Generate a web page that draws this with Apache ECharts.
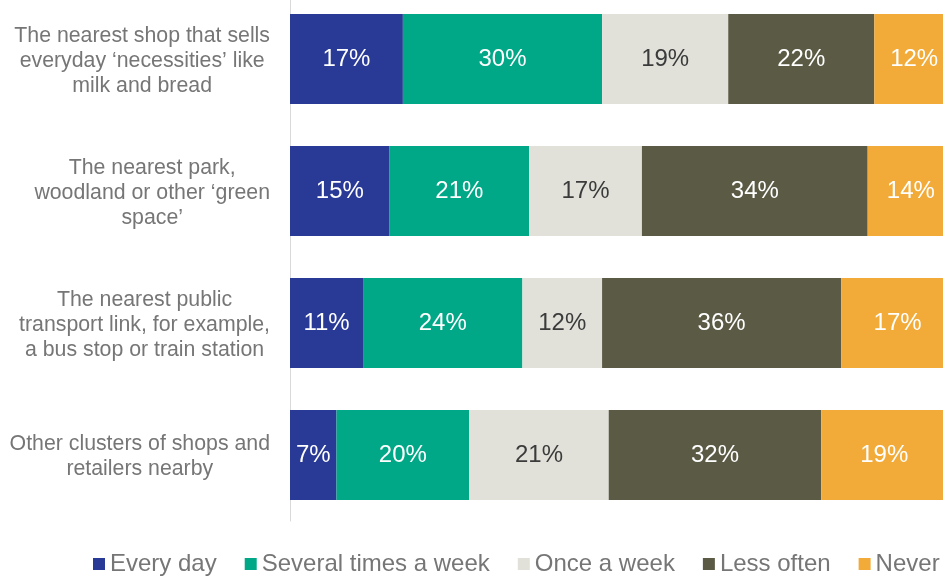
<!DOCTYPE html>
<html>
<head>
<meta charset="utf-8">
<script src="https://cdn.jsdelivr.net/npm/echarts@6/dist/echarts.min.js"></script>
<style>
  html, body { margin: 0; padding: 0; background: #ffffff; overflow: hidden; }
  /* the plot runs a little past the page edges, so the canvas is larger and lifted by 7px */
  #chart { width: 980px; height: 583px; margin-top: -7px; }
</style>
</head>
<body>
<div id="chart"></div>
<script>
// Places people visit, and how often (percent of respondents)
const categories = [
  "The nearest shop that sells\neveryday ‘necessities’ like\nmilk and bread",
  "The nearest park,\nwoodland or other ‘green\nspace’",
  "The nearest public\ntransport link, for example,\na bus stop or train station",
  "Other clusters of shops and\nretailers nearby"
];
const seriesNames = ["Every day", "Several times a week", "Once a week", "Less often", "Never"];
const everyDay      = [17, 15, 11, 7];
const severalWeek   = [30, 21, 24, 20];
const onceWeek      = [19, 17, 12, 21];
const lessOften     = [22, 34, 36, 32];
const never         = [12, 14, 17, 19];

const seriesValues = [everyDay, severalWeek, onceWeek, lessOften, never];
const colors = ["#283996", "#00A887", "#E1E1DA", "#5B5A45", "#F2AB38"];
const labelColors = ["#ffffff", "#ffffff", "#3b3b3b", "#ffffff", "#ffffff"];
const FONT = "Liberation Sans, Arial, sans-serif";

const chart = echarts.init(document.getElementById("chart"));

chart.setOption({
  backgroundColor: "#ffffff",
  textStyle: { fontFamily: FONT },
  animation: false,
  grid: { left: 290, top: 0, width: 664, height: 528, containLabel: false },
  legend: {
    data: seriesNames,
    left: 88,
    top: 554,
    width: 880,
    icon: "rect",
    itemWidth: 12,
    itemHeight: 12,
    itemGap: 28,
    textStyle: { color: "#767676", fontSize: 24, fontFamily: FONT }
  },
  xAxis: {
    type: "value",
    min: 0,
    max: 100,
    show: false
  },
  yAxis: {
    type: "category",
    inverse: true,
    data: categories,
    axisLine: { show: true, lineStyle: { color: "#d9d9d9", width: 1 } },
    axisTick: { show: false },
    axisLabel: {
      margin: 20,
      align: "right",
      padding: [4, 0, 0, 0],
      color: "#767676",
      fontSize: 21.3,
      lineHeight: 25,
      fontFamily: FONT,
      formatter: function (v) {
        return v.split("\n").map(function (l) { return "{c|" + l + "}"; }).join("\n");
      },
      rich: {
        c: { align: "center", color: "#767676", fontSize: 21.3, lineHeight: 25, fontFamily: FONT }
      }
    }
  },
  series: seriesValues.map(function (vals, i) {
    return {
      name: seriesNames[i],
      type: "bar",
      stack: "total",
      barWidth: 90,
      data: vals,
      itemStyle: { color: colors[i] },
      label: {
        show: true,
        position: "inside",
        formatter: "{c}%",
        color: labelColors[i],
        fontSize: 24,
        fontFamily: FONT
      }
    };
  })
});
</script>
</body>
</html>
